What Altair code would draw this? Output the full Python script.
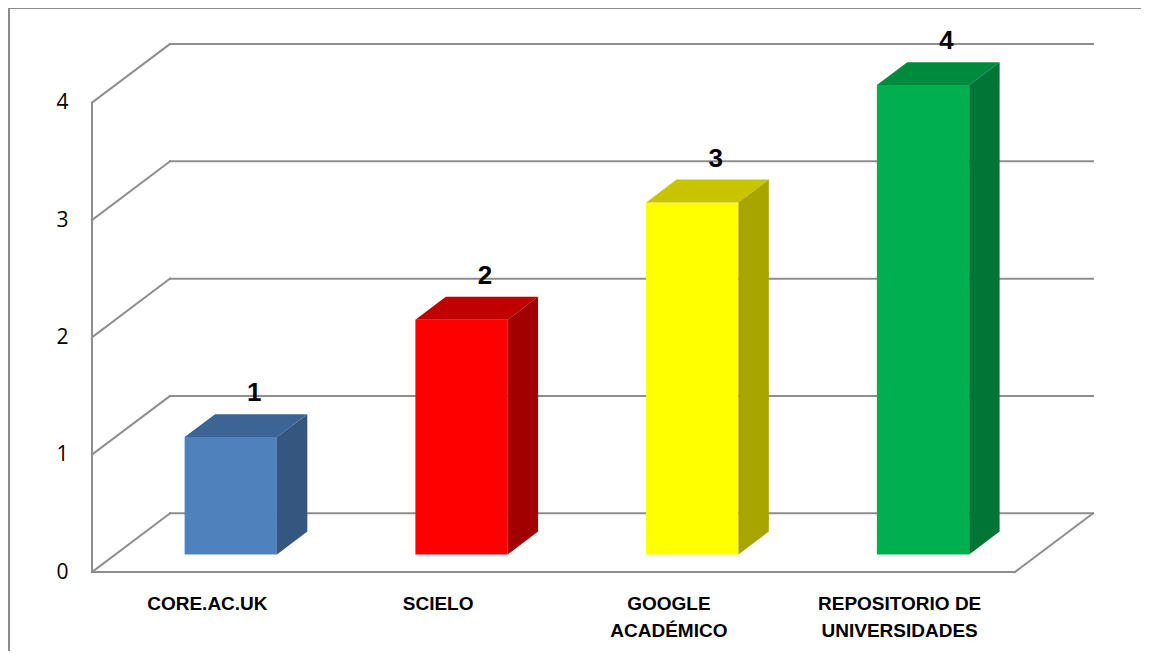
import altair as alt
import pandas as pd

# ---- data ----
categories = ["CORE.AC.UK", "SCIELO", "GOOGLE\nACADÉMICO", "REPOSITORIO DE\nUNIVERSIDADES"]
values = [1, 2, 3, 4]
y_ticks = [0, 1, 2, 3, 4]
front_colors = ["#4F81BD", "#FF0000", "#FFFF00", "#00B050"]
top_colors = ["#3C6494", "#C00000", "#C8C400", "#008A3E"]
side_colors = ["#34567F", "#A20000", "#A8A500", "#007535"]

# ---- pseudo-3D style constants (in scale units) ----
N = len(categories)
DX = 0.338      # depth shift along x (category slots)
DY = 0.5        # depth shift along y (value units)
BAR_W = 0.40    # bar width (fraction of slot)
T0, T1 = 0.30, 0.69  # bar front/back depth fractions
Y_MAX = 4.5
GRID = "#8E8E8E"

xs = alt.Scale(domain=[0, N + DX], nice=False, zero=False)
ys = alt.Scale(domain=[0, Y_MAX], nice=False, zero=False)
yaxis = alt.Axis(values=y_ticks, domain=False, ticks=False, grid=False, labelPadding=24,
                 labelFontSize=21, labelFont="Open Sans", labelColor="#000000", title=None)

# walls / floor lines
wall_rows = []
for v in y_ticks:
    wall_rows.append(dict(x=DX, y=v + DY, x2=N + DX, y2=v + DY))   # back wall gridline
    wall_rows.append(dict(x=0, y=v, x2=DX, y2=v + DY))             # left wall diagonal
wall_rows.append(dict(x=0, y=0, x2=0, y2=max(y_ticks)))            # front vertical edge
wall_rows.append(dict(x=0, y=0, x2=N, y2=0))                       # floor front edge
wall_rows.append(dict(x=N, y=0, x2=N + DX, y2=DY))                 # floor right edge
walls = pd.DataFrame(wall_rows)

front_rows, top_rows, side_rows, lab_rows = [], [], [], []
for i, (c, v) in enumerate(zip(categories, values)):
    xl = i + (1 - BAR_W) / 2
    xr = xl + BAR_W
    front_rows.append(dict(cat=c, x=xl + DX * T0, x2=xr + DX * T0, y=DY * T0, y2=v + DY * T0,
                           fill=front_colors[i]))
    for t in (T0, T1):
        top_rows.append(dict(cat=c, yy=v + DY * t, xa=xl + DX * t, xb=xr + DX * t, fill=top_colors[i]))
        side_rows.append(dict(cat=c, xx=xr + DX * t, ya=DY * t, yb=v + DY * t, fill=side_colors[i]))
    lab_rows.append(dict(cat=c, val=str(v), lx=i + 0.5 + DX * 0.6, ly=v + DY * T1, cx=i + 0.5))

front = pd.DataFrame(front_rows)
top = pd.DataFrame(top_rows)
side = pd.DataFrame(side_rows)
labs = pd.DataFrame(lab_rows)

wall_layer = alt.Chart(walls).mark_rule(color=GRID, strokeWidth=2, strokeCap="square").encode(
    x=alt.X("x:Q", scale=xs, axis=None),
    x2="x2:Q",
    y=alt.Y("y:Q", scale=ys, axis=yaxis),
    y2="y2:Q",
)

front_layer = alt.Chart(front).mark_rect().encode(
    x=alt.X("x:Q", scale=xs, axis=None),
    x2="x2:Q",
    y=alt.Y("y:Q", scale=ys, axis=yaxis),
    y2="y2:Q",
    color=alt.Color("fill:N", scale=None),
)

top_layer = alt.Chart(top).mark_area(orient="horizontal").encode(
    y=alt.Y("yy:Q", scale=ys, axis=yaxis),
    x=alt.X("xa:Q", scale=xs, axis=None, stack=None),
    x2="xb:Q",
    detail="cat:N",
    color=alt.Color("fill:N", scale=None),
)

side_layer = alt.Chart(side).mark_area(orient="vertical").encode(
    x=alt.X("xx:Q", scale=xs, axis=None),
    y=alt.Y("ya:Q", scale=ys, axis=yaxis, stack=None),
    y2="yb:Q",
    detail="cat:N",
    color=alt.Color("fill:N", scale=None),
)

val_layer = alt.Chart(labs).mark_text(
    font="Liberation Sans", fontWeight="bold", fontSize=26, baseline="bottom", dy=-8, color="#000000"
).encode(
    x=alt.X("lx:Q", scale=xs, axis=None),
    y=alt.Y("ly:Q", scale=ys, axis=yaxis),
    text="val:N",
)

cat_layer = alt.Chart(labs).mark_text(
    font="Liberation Sans Narrow, Arial Narrow, Liberation Sans", fontWeight="bold", fontSize=19,
    baseline="middle", lineBreak="\n", lineHeight=27, color="#000000"
).encode(
    x=alt.X("cx:Q", scale=xs, axis=None),
    y=alt.value(560),
    text="cat:N",
)

border = alt.Chart(pd.DataFrame({"k": [0]})).mark_rule(color="#8C8C8C", strokeWidth=2).encode(
    x=alt.value(-83), x2=alt.value(1060), y=alt.value(-36), y2=alt.value(-36)
)
border_left = alt.Chart(pd.DataFrame({"k": [0]})).mark_rule(color="#8C8C8C", strokeWidth=2).encode(
    x=alt.value(-83), x2=alt.value(-83), y=alt.value(-36), y2=alt.value(620)
)

chart = alt.layer(
    border, border_left, wall_layer, front_layer, top_layer, side_layer, val_layer, cat_layer
).properties(
    width=1001, height=528,
    autosize=alt.AutoSizeParams(type="none"),
    padding={"left": 84, "top": 36, "right": 48, "bottom": 79},
).configure_view(stroke=None)

chart.save("out.html", embed_options={"renderer": "svg", "actions": False})
